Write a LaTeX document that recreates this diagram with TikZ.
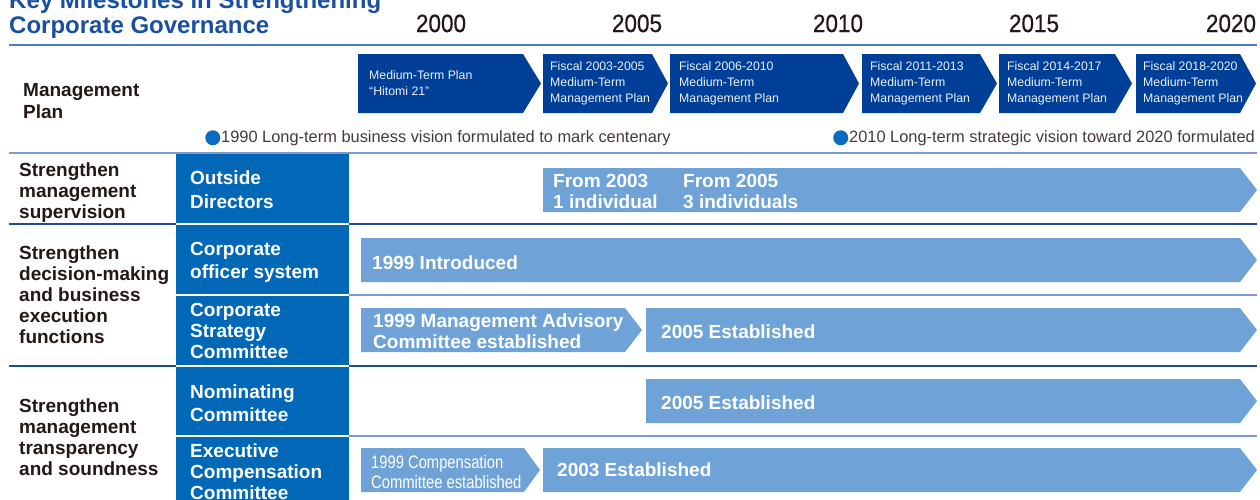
\documentclass[tikz,border=0pt]{standalone}
\usepackage{fontspec}
\setmainfont{Liberation Sans}
\newfontfamily\yearfont[FakeStretch=0.9,FakeBold=0.6]{Liberation Sans}
\newfontfamily\slimfont[FakeStretch=0.82]{Liberation Sans}
\usetikzlibrary{positioning}

\definecolor{planblue}{HTML}{003F98}
\definecolor{colblue}{HTML}{0068B7}
\definecolor{barblue}{HTML}{6FA3D8}
\definecolor{dotblue}{HTML}{0A6CC0}
\definecolor{titleblue}{HTML}{1A4FA0}
\definecolor{ruleblue}{HTML}{4A7CC0}
\definecolor{rulelight}{HTML}{7B9BD0}
\definecolor{ruledark}{HTML}{1D4A9A}
\definecolor{inkdark}{HTML}{231815}

% arrow-ended bar: colour, left, right, top, bottom, tip depth
\newcommand{\chevbar}[6]{%
  \fill[#1] (#2,#4) -- (#3,#4) -- (#3+#6,{(#4+#5)/2}) -- (#3,#5) -- (#2,#5) -- cycle;}

% multi-line nodes sit on the baseline of their last line
\tikzset{
  heading/.style={anchor=base west, inner sep=0pt, align=left, text=titleblue,
    font=\bfseries\fontsize{24}{25}\selectfont},
  yearlabel/.style={anchor=base, inner sep=0pt, text=inkdark,
    font=\yearfont\fontsize{25}{25}\selectfont},
  rowlabel/.style={anchor=base west, inner sep=0pt, align=left, text=inkdark,
    font=\bfseries\fontsize{19}{#1}\selectfont},
  rowlabel/.default=21,
  cellname/.style={anchor=base west, inner sep=0pt, align=left, text=white,
    font=\bfseries\fontsize{19}{#1}\selectfont},
  cellname/.default=21,
  bartext/.style={anchor=base west, inner sep=0pt, align=left, text=white,
    font=\bfseries\fontsize{19}{21}\selectfont},
  plantext/.style={anchor=base west, inner sep=0pt, align=left, text=white!92!planblue,
    font=\fontsize{12.3}{16}\selectfont},
  note/.style={anchor=base west, inner sep=0pt, text=inkdark!85,
    font=\fontsize{16.4}{16}\selectfont},
  bulletdot/.style={circle, fill=dotblue, inner sep=0pt, minimum size=15pt},
  thickrule/.style={draw=ruleblue, line width=2pt},
  lightrule/.style={draw=rulelight, line width=1.6pt},
  darkrule/.style={draw=ruledark, line width=1.4pt},
}

\begin{document}
\begin{tikzpicture}[x=1pt,y=-1pt]
  \useasboundingbox (0,0) rectangle (1260,499);
  \clip (0,0) rectangle (1260,499);

  % heading and years
  \node[heading] (title) at (9,33) {Key Milestones in Strengthening\\Corporate Governance};
  \foreach \yr/\xc in {2000/441,2005/637,2010/838,2015/1034,2020/1231}
    \node[yearlabel] (y\yr) at (\xc,32) {\yr};

  % rules
  \draw[thickrule] (9,44.5) -- (1257,44.5);
  \draw[lightrule] (9,153) -- (1257,153);
  \draw[darkrule] (9,224) -- (1257,224);
  \draw[lightrule] (349,295) -- (1257,295);
  \draw[darkrule] (9,366) -- (1257,366);
  \draw[lightrule] (349,436) -- (1257,436);

  % management plans
  \node[rowlabel=22] (mplan) at (23,118) {Management\\Plan};
  \chevbar{planblue}{358}{523}{54}{113}{18}
  \chevbar{planblue}{543}{652}{54}{113}{16}
  \chevbar{planblue}{670}{843}{54}{113}{16}
  \chevbar{planblue}{862}{980}{54}{113}{17}
  \chevbar{planblue}{999}{1115}{54}{113}{17}
  \chevbar{planblue}{1136}{1240}{54}{113}{16}
  \node[plantext] (hitomi) at (369,95) {Medium-Term Plan\\``Hitomi 21''};
  \node[plantext] (mtp1) at (550,102) {Fiscal 2003-2005\\Medium-Term\\Management Plan};
  \node[plantext] (mtp2) at (679,102) {Fiscal 2006-2010\\Medium-Term\\Management Plan};
  \node[plantext] (mtp3) at (870,102) {Fiscal 2011-2013\\Medium-Term\\Management Plan};
  \node[plantext] (mtp4) at (1007,102) {Fiscal 2014-2017\\Medium-Term\\Management Plan};
  \node[plantext] (mtp5) at (1143,102) {Fiscal 2018-2020\\Medium-Term\\Management Plan};

  % long-term visions
  \node[note] (vis1) at (221,142) {1990 Long-term business vision formulated to mark centenary};
  \node[note, anchor=base east] (vis2) at (1255,142) {2010 Long-term strategic vision toward 2020 formulated};
  \node[bulletdot, left=0.5pt of vis1] (dot1) {};
  \node[bulletdot, left=0.5pt of vis2] (dot2) {};

  % blue column of measures
  \fill[colblue] (176,154) rectangle (349,505);
  \foreach \yy in {224,295,366,436}
    \draw[white, line width=1.6pt] (176,\yy) -- (349,\yy);

  % aims
  \node[rowlabel] (aim1) at (19,218) {Strengthen\\management\\supervision};
  \node[rowlabel] (aim2) at (19,343) {Strengthen\\decision-making\\and business\\execution\\functions};
  \node[rowlabel] (aim3) at (19,475) {Strengthen\\management\\transparency\\and soundness};

  % measures
  \node[cellname=24] (outdir) at (190,208) {Outside\\Directors};
  \node[cellname=23] (officer) at (190,278) {Corporate\\officer system};
  \node[cellname] (strategy) at (190,358) {Corporate\\Strategy\\Committee};
  \node[cellname=23] (nominate) at (190,421) {Nominating\\Committee};
  \node[cellname] (compens) at (190,499) {Executive\\Compensation\\Committee};

  % timelines
  \chevbar{barblue}{543}{1240}{168}{212}{17}
  \chevbar{barblue}{361}{1240}{238}{282}{17}
  \chevbar{barblue}{361}{625}{308}{352}{17}
  \chevbar{barblue}{646}{1240}{308}{352}{17}
  \chevbar{barblue}{646}{1240}{379}{423}{17}
  \chevbar{barblue}{361}{524}{448}{492}{16}
  \chevbar{barblue}{543}{1240}{448}{492}{17}

  \node[bartext] (od1) at (553,208) {From 2003\\1 individual};
  \node[bartext] (od2) at (683,208) {From 2005\\3 individuals};
  \node[bartext] (cos) at (372,269) {1999 Introduced};
  \node[bartext] (csc1) at (373,348) {1999 Management Advisory\\Committee established};
  \node[bartext] (csc2) at (661,338) {2005 Established};
  \node[bartext] (nom) at (661,409) {2005 Established};
  \node[bartext, font=\slimfont\fontsize{18}{20}\selectfont] (ecc1) at (371,488) {1999 Compensation\\Committee established};
  \node[bartext] (ecc2) at (557,476) {2003 Established};

\end{tikzpicture}
\end{document}
